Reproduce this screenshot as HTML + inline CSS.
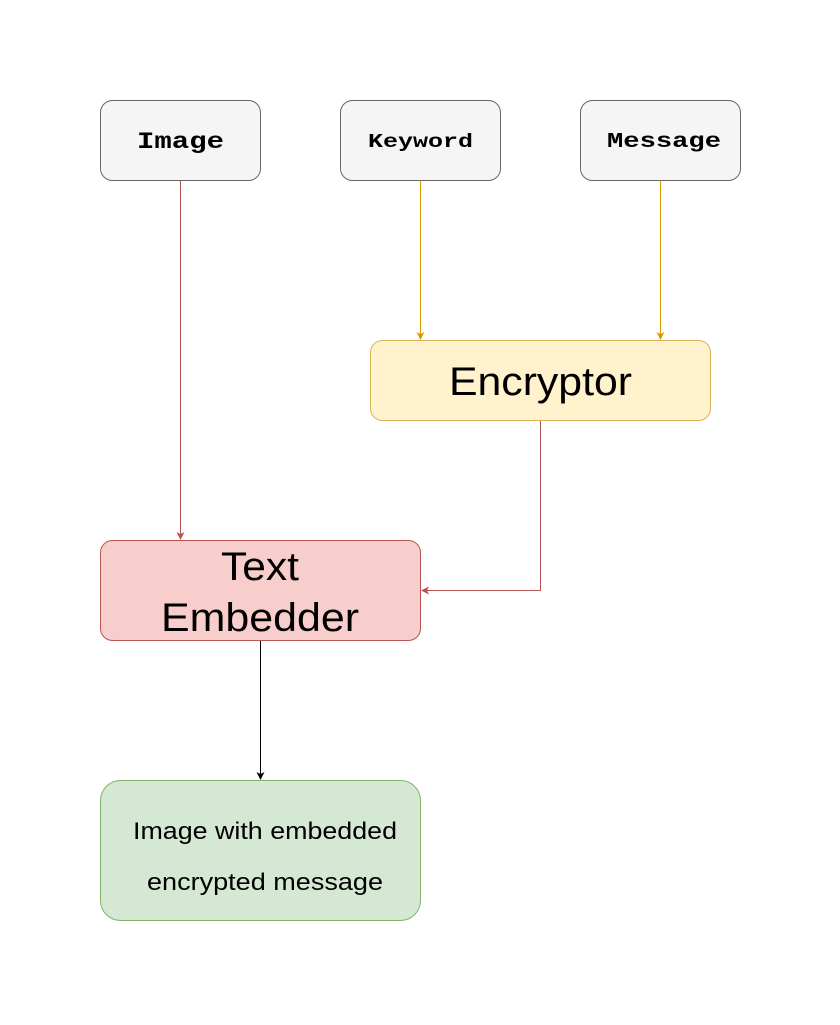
<!DOCTYPE html>
<html><head><style>
html,body{margin:0;padding:0;background:#fff;}
</style></head><body>
<svg width="840" height="1020" xmlns="http://www.w3.org/2000/svg">
<defs>
<marker id="ar" markerWidth="8" markerHeight="8" refX="7" refY="4" orient="auto" markerUnits="userSpaceOnUse"><path d="M0,0 L8,4 L0,8 L2,4 Z" fill="#b85450"/></marker>
<marker id="ay" markerWidth="8" markerHeight="8" refX="7" refY="4" orient="auto" markerUnits="userSpaceOnUse"><path d="M0,0 L8,4 L0,8 L2,4 Z" fill="#d79b00"/></marker>
<marker id="ak" markerWidth="8" markerHeight="8" refX="7" refY="4" orient="auto" markerUnits="userSpaceOnUse"><path d="M0,0 L8,4 L0,8 L2,4 Z" fill="#000"/></marker>
</defs>
<rect x="100.5" y="100.5" width="160" height="80" rx="12" fill="#f5f5f5" stroke="#666"/>
<rect x="340.5" y="100.5" width="160" height="80" rx="12" fill="#f5f5f5" stroke="#666"/>
<rect x="580.5" y="100.5" width="160" height="80" rx="12" fill="#f5f5f5" stroke="#666"/>
<text x="137" y="148" font-family="Liberation Mono, monospace" font-weight="bold" font-size="23" textLength="87" lengthAdjust="spacingAndGlyphs">Image</text>
<text x="368" y="147" font-family="Liberation Mono, monospace" font-weight="bold" font-size="19" textLength="105" lengthAdjust="spacingAndGlyphs">Keyword</text>
<text x="607" y="147" font-family="Liberation Mono, monospace" font-weight="bold" font-size="21" textLength="114" lengthAdjust="spacingAndGlyphs">Message</text>
<rect x="370.5" y="340.5" width="340" height="80" rx="12" fill="#fff2cc" stroke="#d6b656"/>
<text x="449" y="395" font-family="Liberation Sans, sans-serif" font-size="40" textLength="183" lengthAdjust="spacingAndGlyphs">Encryptor</text>
<rect x="100.5" y="540.5" width="320" height="100" rx="12" fill="#f8cecc" stroke="#b85450"/>
<text x="221" y="580" font-family="Liberation Sans, sans-serif" font-size="40" textLength="78" lengthAdjust="spacingAndGlyphs">Text</text>
<text x="161" y="631" font-family="Liberation Sans, sans-serif" font-size="40" textLength="198" lengthAdjust="spacingAndGlyphs">Embedder</text>
<rect x="100.5" y="780.5" width="320" height="140" rx="20" fill="#d5e8d4" stroke="#82b366"/>
<text x="133" y="839" font-family="Liberation Sans, sans-serif" font-size="24" textLength="264" lengthAdjust="spacingAndGlyphs">Image with embedded</text>
<text x="147" y="890" font-family="Liberation Sans, sans-serif" font-size="24" textLength="236" lengthAdjust="spacingAndGlyphs">encrypted message</text>
<path d="M180.5 181 V539" stroke="#b85450" fill="none" marker-end="url(#ar)"/>
<path d="M420.5 181 V339" stroke="#d79b00" fill="none" marker-end="url(#ay)"/>
<path d="M660.5 181 V339" stroke="#d79b00" fill="none" marker-end="url(#ay)"/>
<path d="M540.5 421 V590.5 H422" stroke="#b85450" fill="none" marker-end="url(#ar)"/>
<path d="M260.5 641 V779" stroke="#000" fill="none" marker-end="url(#ak)"/>
</svg>
</body></html>
